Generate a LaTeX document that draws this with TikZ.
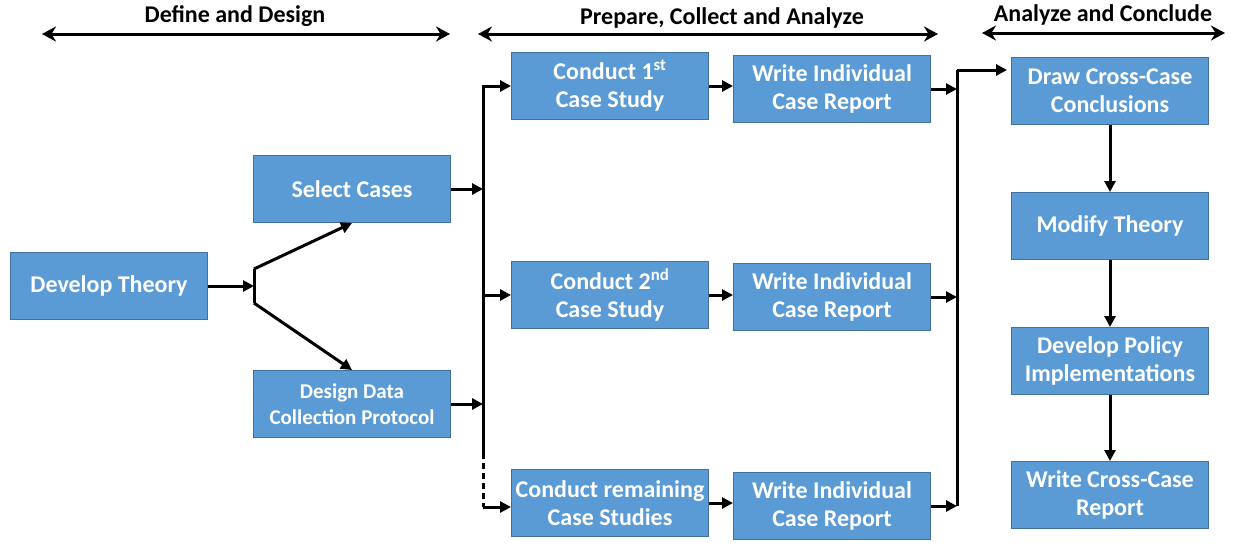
\documentclass[tikz,border=0pt]{standalone}
\usepackage{fontspec}
\setmainfont{Carlito}
\usepackage{tikz}
\usetikzlibrary{arrows.meta}
\definecolor{boxfill}{HTML}{5B9BD5}
\definecolor{boxline}{HTML}{41719C}

\begin{document}
\begin{tikzpicture}[x=1pt,y=-1pt,
	box/.style={draw=boxline,fill=boxfill,line width=1pt,minimum width=197pt,minimum height=67pt,
		inner sep=0pt,align=center,text=white,font=\bfseries\fontsize{24}{28}\selectfont},
	head/.style={font=\bfseries\fontsize{24}{28}\selectfont},
	line/.style={line width=3pt},
	conn/.style={line width=3pt,-{Triangle[length=11pt,width=11pt]}},
	span/.style={line width=3pt,{Stealth[length=14pt,width=15pt]}-{Stealth[length=14pt,width=15pt]}}]
	
	\useasboundingbox (0,0) rectangle (1234,547);
	
	% phase headings
	\node[head] (h1) at (235, 16)     {Define and Design};
	\node[head] (h2) at (722, 18)     {Prepare, Collect and Analyze};
	\node[head] (h3) at (1103, 15)    {Analyze and Conclude};
	\coordinate (h1l) at (42, 34);
	\coordinate (h1r) at (450, 34);
	\coordinate (h2l) at (478, 34);
	\coordinate (h2r) at (938, 34);
	\coordinate (h3l) at (982, 33);
	\coordinate (h3r) at (1225, 33);
	\draw[span] (h1l) -- (h1r);
	\draw[span] (h2l) -- (h2r);
	\draw[span] (h3l) -- (h3r);
	
	% boxes
	\node[box] (dt)  at (109, 286)    {Develop Theory};
	\node[box] (sc)  at (352, 189)    {Select Cases};
	\node[box,font=\bfseries\fontsize{21}{26}\selectfont] (ddc) at (352, 404)
		{Design Data\\Collection Protocol};
	\node[box] (c1)  at (610, 86)     {Conduct 1\textsuperscript{st}\\Case Study};
	\node[box] (c2)  at (610, 295)    {Conduct 2\textsuperscript{nd}\\Case Study};
	\node[box] (cr)  at (610, 503)    {Conduct remaining\\Case Studies};
	\node[box] (w1)  at (832, 89)     {Write Individual\\Case Report};
	\node[box] (w2)  at (832, 297)    {Write Individual\\Case Report};
	\node[box] (w3)  at (832, 506)    {Write Individual\\Case Report};
	\node[box] (dcc) at (1110, 91)    {Draw Cross-Case\\Conclusions};
	\node[box] (mt)  at (1110, 226)   {Modify Theory};
	\node[box] (dpi) at (1110, 361)   {Develop Policy\\Implementations};
	\node[box] (wcr) at (1110, 495)   {Write Cross-Case\\Report};
	
	% fork after theory
	\coordinate (fork)  at (254, 286);
	\coordinate (forkt) at (254, 269);
	\coordinate (forkb) at (254, 303);
	\draw[conn] (dt.east) -- (fork);
	\draw[line] (forkt) -- (forkb);
	\draw[conn] (forkt) -- (sc.south);
	\draw[conn] (forkb) -- (ddc.north);
	
	% bus to the case studies
	\coordinate (bust) at (483, 86);
	\coordinate (busd) at (483, 453);
	\coordinate (busb) at (483, 507);
	\draw[conn] (sc.east) -- (sc.east -| bust);
	\draw[conn] (ddc.east) -- (ddc.east -| bust);
	\draw[conn] (busd) -- (bust) -- (c1.west);
	\draw[conn] (c2.west -| bust) -- (c2.west);
	\draw[line,dash pattern=on 6pt off 4pt] (busd) -- (busb);
	\draw[conn] (busb) -- (busb -| cr.west);
	\draw[conn] (c1.east) -- (c1.east -| w1.west);
	\draw[conn] (c2.east) -- (c2.east -| w2.west);
	\draw[conn] (cr.east) -- (cr.east -| w3.west);
	
	% join of the reports
	\coordinate (joint) at (957, 70);
	\coordinate (joinb) at (957, 506);
	\draw[line] (joint) -- (joinb);
	\draw[conn] (w1.east) -- (w1.east -| joint);
	\draw[conn] (w2.east) -- (w2.east -| joint);
	\draw[conn] (w3.east) -- (w3.east -| joint);
	\draw[conn,shorten >=4pt] (joint) -- (joint -| dcc.west);
	
	% cross-case steps
	\draw[conn] (dcc.south) -- (mt.north);
	\draw[conn] (mt.south) -- (dpi.north);
	\draw[conn] (dpi.south) -- (wcr.north);
	
\end{tikzpicture}
\end{document}
